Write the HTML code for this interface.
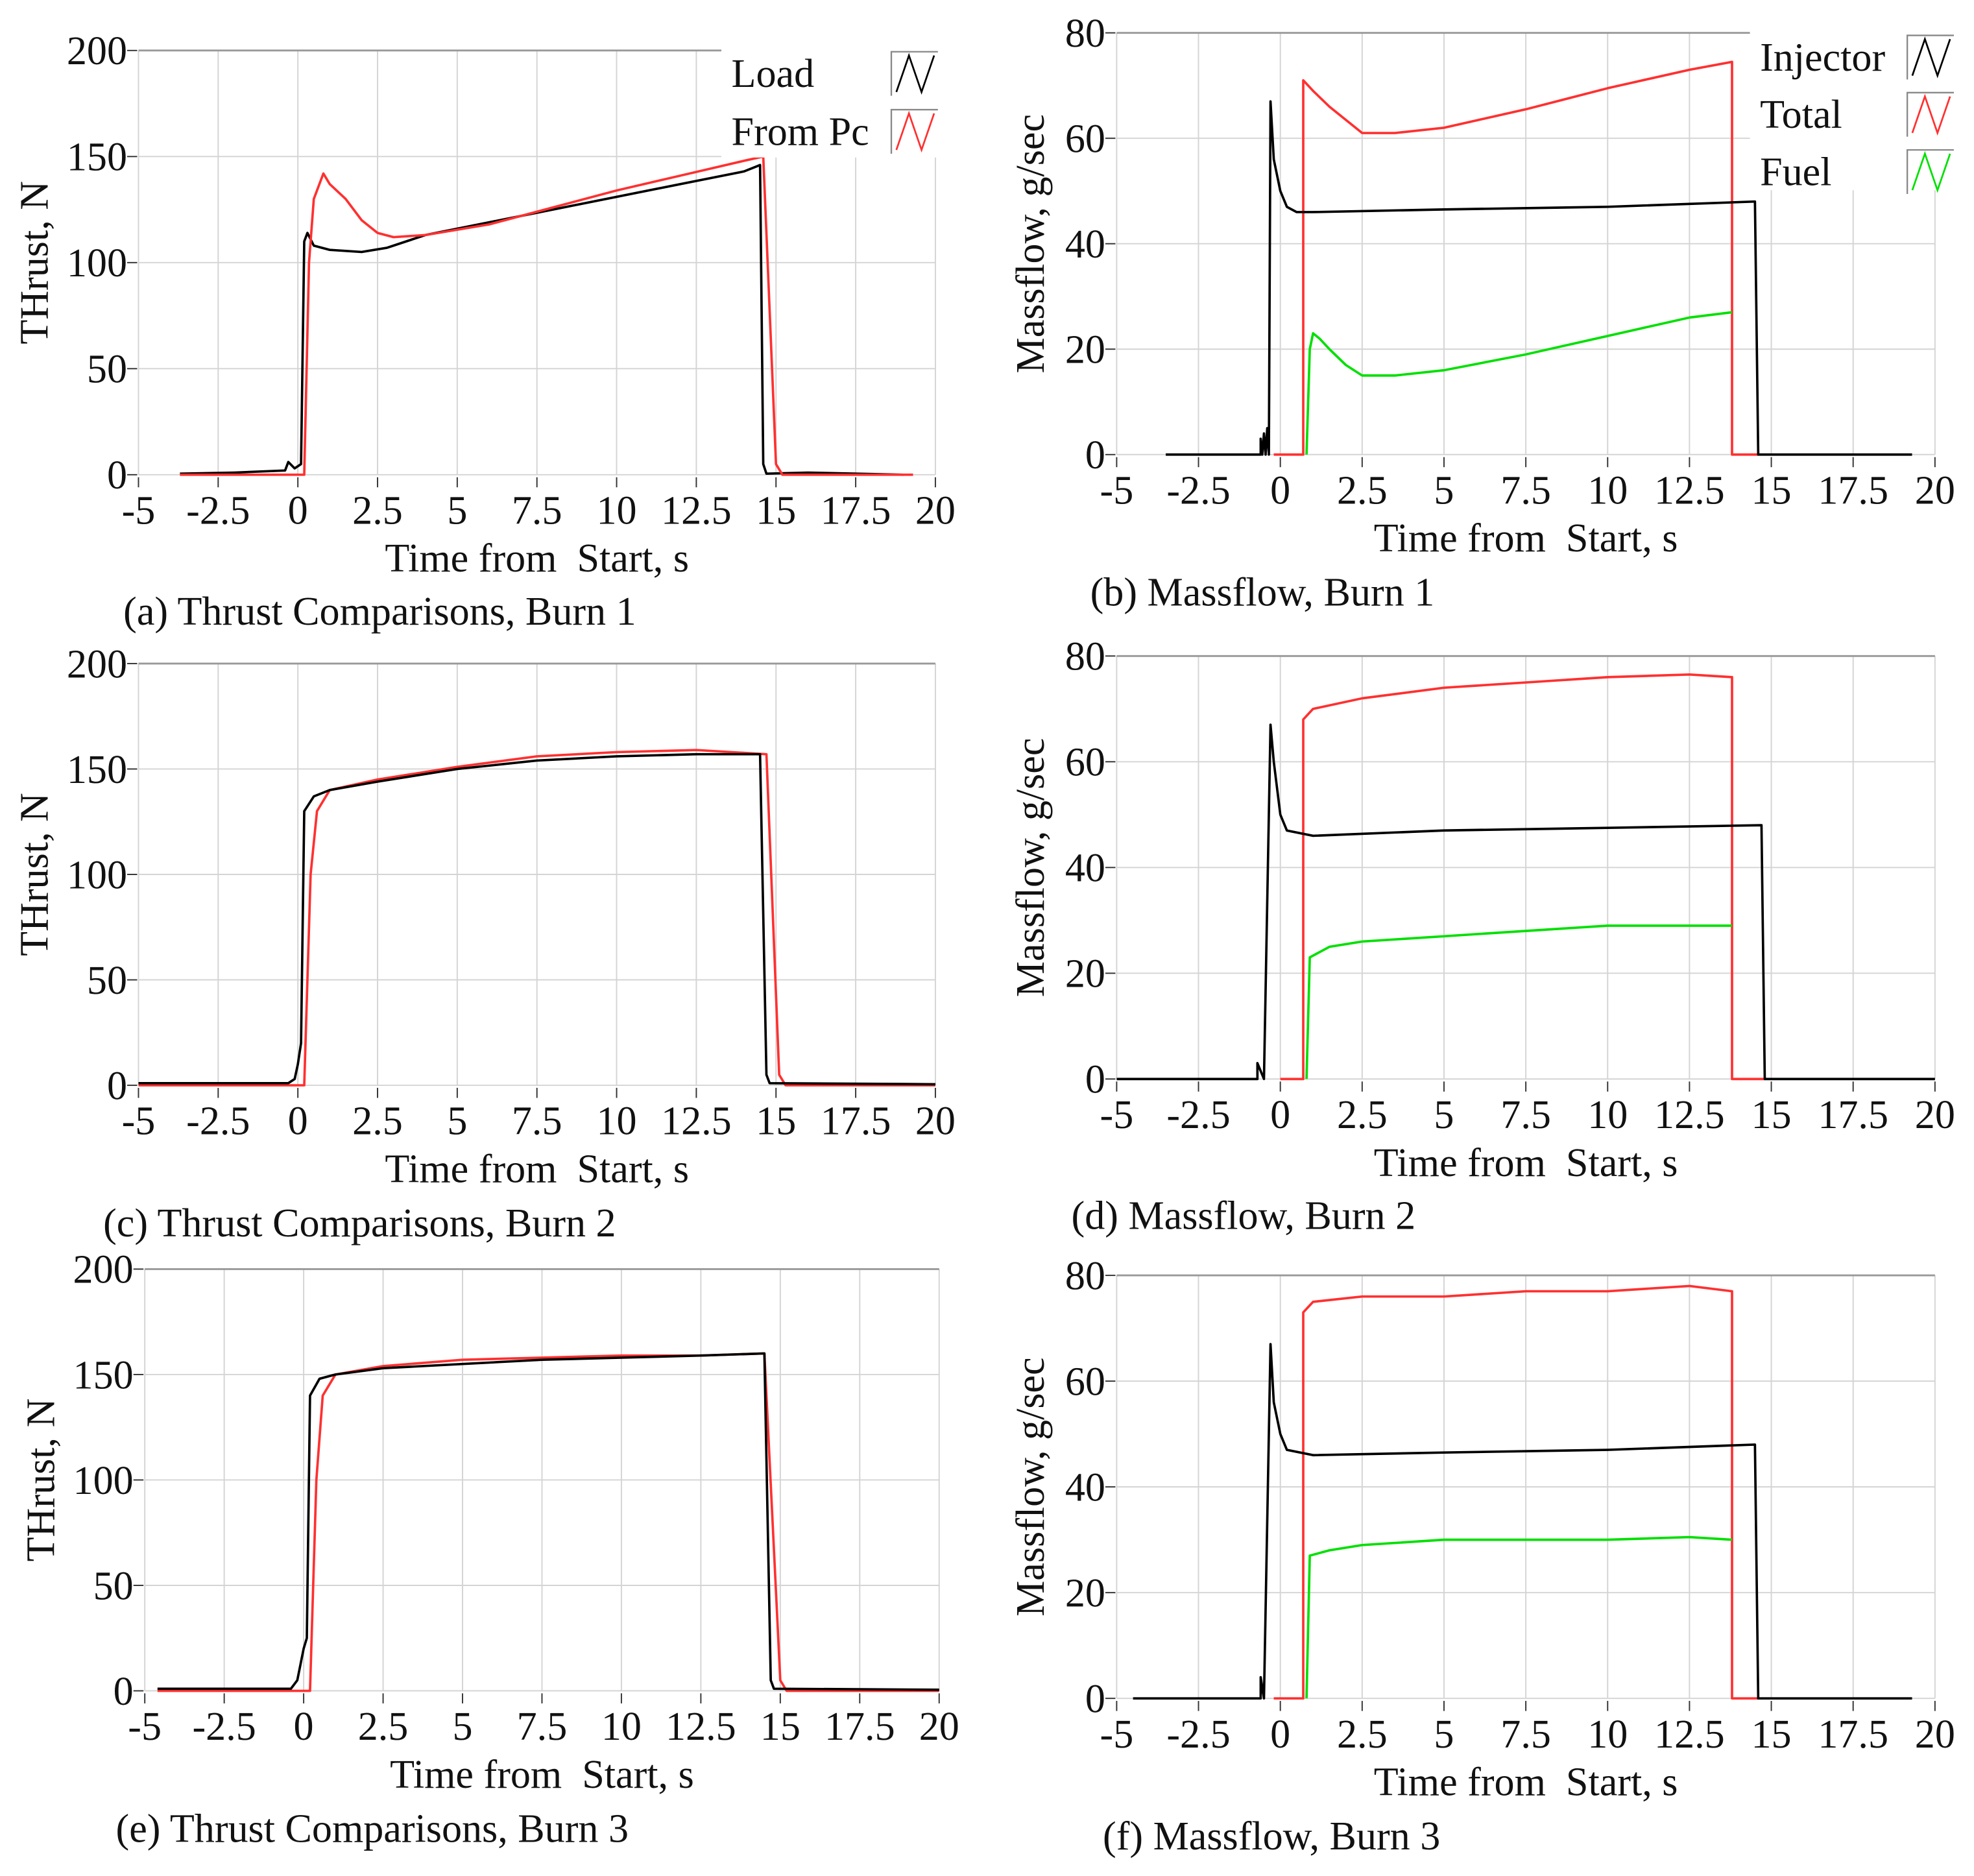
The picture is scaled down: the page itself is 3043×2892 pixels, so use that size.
<!DOCTYPE html>
<html><head><meta charset="utf-8"><style>
html,body{margin:0;padding:0;background:#fff;}
svg{display:block;}
text{font-family:"Liberation Serif",serif;fill:#111;white-space:pre;}
</style></head><body>
<svg id="fig" xmlns="http://www.w3.org/2000/svg" width="3043" height="2892" viewBox="0 0 1568 1490"></svg>
<script>
// ---- data (time s, value) ----
const xTicks = [-5,-2.5,0,2.5,5,7.5,10,12.5,15,17.5,20];
const xTickLabels = ["-5","-2.5","0","2.5","5","7.5","10","12.5","15","17.5","20"];
const thrustTicks = [0,50,100,150,200];
const massTicks = [0,20,40,60,80];

const b1LoadT = [-3.7,-2,-0.4,-0.3,-0.1,0.1,0.2,0.3,0.5,1,2,2.8,4,6,8,10,12,14,14.5,14.6,14.7,16,19];
const b1LoadV = [0.5,1,2,6,3,5,110,114,108,106,105,107,113,119,125,131,137,143,146,5,0.5,1,0];
const b1PcT = [-3.7,0.2,0.35,0.5,0.8,1,1.5,2,2.5,3,4,6,8,10,12,14,14.6,15,15.2,19.3];
const b1PcV = [0,0,100,130,142,137,130,120,114,112,113,118,126,134,141,148,150,5,0,0];

const b1InjT = [-3.5,-0.6,-0.6,-0.55,-0.5,-0.45,-0.4,-0.35,-0.3,-0.2,0,0.2,0.5,1,5,10,14.5,14.6,19.3];
const b1InjV = [0,0,3,0,4,0,5,0,67,56,50,47,46,46,46.5,47,48,0,0];
const b1TotT = [-0.2,0.7,0.7,1,1.5,2.5,3.5,5,7.5,10,12.5,13.8,13.8,14.6];
const b1TotV = [0,0,71,69,66,61,61,62,65.5,69.5,73,74.5,0,0];
const b1FuelT = [0.8,0.9,1,1.2,1.5,2,2.5,3.5,5,7.5,10,12.5,13.8];
const b1FuelV = [0,20,23,22,20,17,15,15,16,19,22.5,26,27];

const b2LoadT = [-5,-0.3,-0.1,0,0.1,0.2,0.5,1,2.5,5,7.5,10,12.5,14.5,14.7,14.8,20];
const b2LoadV = [1,1,3,10,20,130,137,140,144,150,154,156,157,157,5,1,0.5];
const b2PcT = [-5,0.2,0.4,0.6,1,2.5,5,7.5,10,12.5,14.7,15.1,15.3,20];
const b2PcV = [0,0,100,130,140,145,151,156,158,159,157,5,0,0];

const b2InjT = [-5,-0.7,-0.7,-0.5,-0.3,-0.2,0,0.2,1,5,10,14.7,14.8,20];
const b2InjV = [0,0,3,0,67,60,50,47,46,47,47.5,48,0,0];
const b2TotT = [0,0.7,0.7,1,2.5,5,7.5,10,12.5,13.8,13.8,14.8];
const b2TotV = [0,0,68,70,72,74,75,76,76.5,76,0,0];
const b2FuelT = [0.8,0.9,1.5,2.5,5,7.5,10,12.5,13.8];
const b2FuelV = [0,23,25,26,27,28,29,29,29];

const b3LoadT = [-4.6,-0.4,-0.2,0,0.1,0.2,0.5,1,2.5,5,7.5,10,12.5,14.5,14.7,14.8,20];
const b3LoadV = [1,1,5,20,25,140,148,150,153,155,157,158,159,160,5,1,0.5];
const b3PcT = [-4.6,0.2,0.4,0.6,1,2.5,5,7.5,10,12.5,14.5,15,15.2,20];
const b3PcV = [0,0,100,140,150,154,157,158,159,159,160,5,0,0];

const b3InjT = [-4.5,-0.6,-0.6,-0.5,-0.3,-0.2,0,0.2,1,5,10,14.5,14.6,19.3];
const b3InjV = [0,0,4,0,67,56,50,47,46,46.5,47,48,0,0];
const b3TotT = [-0.2,0.7,0.7,1,2.5,5,7.5,10,12.5,13.8,13.8,14.6];
const b3TotV = [0,0,73,75,76,76,77,77,78,77,0,0];
const b3FuelT = [0.8,0.9,1.5,2.5,5,7.5,10,12.5,13.8];
const b3FuelV = [0,27,28,29,30,30,30,30.5,30];

const NS = "http://www.w3.org/2000/svg";
const svg = document.getElementById('fig');
const FS = 32;
function mk(tag, attrs, parent){
  const e = document.createElementNS(NS, tag);
  for (const k in attrs) e.setAttribute(k, attrs[k]);
  (parent||svg).appendChild(e);
  return e;
}

function panel(cfg){
  const g = mk('g', {});
  
  
  const xs = t => cfg.x0 + (t - (-5)) / 25 * (cfg.x1 - cfg.x0);
  const ys = v => cfg.y0 - v / cfg.ymax * (cfg.y0 - cfg.y1);
  xTicks.forEach((t,i) => {
    const l = mk('line', {x1:xs(t), x2:xs(t), y1:cfg.y1, y2:cfg.y0, stroke:'#d4d4d4', 'stroke-width':1}, g);
    
    
    const tk = mk('line', {x1:xs(t), x2:xs(t), y1:cfg.y0+2, y2:cfg.y0+10, stroke:'#333', 'stroke-width':1}, g);
    
    
    const tx = mk('text', {x:xs(t), y:cfg.y0+39, 'text-anchor':'middle', 'font-size':FS}, g);
    tx.textContent = xTickLabels[i];
    
    
  });
  cfg.yticks.forEach(v => {
    if (v !== cfg.ymax) {
      const l = mk('line', {x1:cfg.x0, x2:cfg.x1, y1:ys(v), y2:ys(v), stroke:'#d4d4d4', 'stroke-width':1}, g);
      
      
    }
    const tk = mk('line', {x1:cfg.x0-9, x2:cfg.x0-1, y1:ys(v), y2:ys(v), stroke:'#333', 'stroke-width':1}, g);
    
    
    const tx = mk('text', {x:cfg.x0-9, y:ys(v)+11, 'text-anchor':'end', 'font-size':FS}, g);
    tx.textContent = String(v);
    
    
  });
  const top = mk('line', {x1:cfg.x0, x2:cfg.x1, y1:cfg.y1, y2:cfg.y1, stroke:'#999', 'stroke-width':1.5}, g);
  
  
  cfg.series.forEach(s => {
    const d = s.t.map((t,i) => (i?'L':'M') + xs(t).toFixed(2) + ',' + ys(s.v[i]).toFixed(2)).join('');
    const p = mk('path', {d:d, fill:'none', stroke:s.color, 'stroke-width':1.9, 'stroke-linejoin':'round'}, g);
    
    
  });
  if (cfg.legend){
    const L = cfg.legend;
    const bg = mk('rect', {x:L.x-8, y:cfg.y1-1, width:cfg.x1+10-(L.x-8), height:L.h, fill:'#fff'}, g);
    
    
    L.items.forEach((it,i) => {
      const cy = L.y + i*L.dy;
      const tx = mk('text', {x:L.x, y:cy+11, 'font-size':FS}, g);
      tx.textContent = it.label;
      
      
      const bx = L.bx;
      const frame = mk('path', {d:`M${bx},${cy+18}L${bx},${cy-17}L${bx+37},${cy-17}`, fill:'none', stroke:'#888', 'stroke-width':1.2}, g);
      
      
      const sw = mk('path', {d:`M${bx+4},${cy+15}L${bx+14},${cy-14}L${bx+24},${cy+15}L${bx+34},${cy-14}`, fill:'none', stroke:it.color, 'stroke-width':1.4}, g);
      
      
    });
  }
  const xt = mk('text', {x:(cfg.x0+cfg.x1)/2, y:cfg.y0+77, 'text-anchor':'middle', 'font-size':FS}, g);
  xt.textContent = 'Time from\u00a0\u00a0Start, s';
  
  
  const ycx = cfg.x0 - cfg.yoff, ycy = (cfg.y0+cfg.y1)/2;
  const yt = mk('text', {x:ycx, y:ycy, 'text-anchor':'middle', 'font-size':FS, transform:`rotate(-90 ${ycx} ${ycy})`}, g);
  yt.textContent = cfg.ytitle;
  
  
  const cap = mk('text', {x:cfg.capX, y:cfg.capY, 'font-size':FS}, g);
  cap.textContent = cfg.caption;
  
  
}

const K='#000', R='#ff3030', G='#00e000';
const thrustLegend = {x:581, bx:708, y:58, dy:46, h:86, items:[{label:'Load',color:K},{label:'From Pc',color:R}]};
const massLegend = {x:1398, bx:1515, y:45, dy:45.5, h:126, items:[{label:'Injector',color:K},{label:'Total',color:R},{label:'Fuel',color:G}]};

panel({name:'thrust-burn1-chart', x0:110, x1:743, y0:377, y1:40, ymax:200, yticks:thrustTicks, ytitle:'THrust, N', yoff:72,
  caption:'(a) Thrust Comparisons, Burn 1', capX:98, capY:496, legend:thrustLegend,
  series:[{name:'load-burn1-line',t:b1LoadT,v:b1LoadV,color:K},{name:'from-pc-burn1-line',t:b1PcT,v:b1PcV,color:R}]});
panel({name:'massflow-burn1-chart', x0:887, x1:1537, y0:361, y1:26, ymax:80, yticks:massTicks, ytitle:'Massflow, g/sec', yoff:58,
  caption:'(b) Massflow, Burn 1', capX:866, capY:481, legend:massLegend,
  series:[{name:'total-burn1-line',t:b1TotT,v:b1TotV,color:R},{name:'fuel-burn1-line',t:b1FuelT,v:b1FuelV,color:G},{name:'injector-burn1-line',t:b1InjT,v:b1InjV,color:K}]});
panel({name:'thrust-burn2-chart', x0:110, x1:743, y0:862, y1:527, ymax:200, yticks:thrustTicks, ytitle:'THrust, N', yoff:72,
  caption:'(c) Thrust Comparisons, Burn 2', capX:82, capY:982,
  series:[{name:'from-pc-burn2-line',t:b2PcT,v:b2PcV,color:R},{name:'load-burn2-line',t:b2LoadT,v:b2LoadV,color:K}]});
panel({name:'massflow-burn2-chart', x0:887, x1:1537, y0:857, y1:521, ymax:80, yticks:massTicks, ytitle:'Massflow, g/sec', yoff:58,
  caption:'(d) Massflow, Burn 2', capX:851, capY:976,
  series:[{name:'total-burn2-line',t:b2TotT,v:b2TotV,color:R},{name:'fuel-burn2-line',t:b2FuelT,v:b2FuelV,color:G},{name:'injector-burn2-line',t:b2InjT,v:b2InjV,color:K}]});
panel({name:'thrust-burn3-chart', x0:115, x1:746, y0:1343, y1:1008, ymax:200, yticks:thrustTicks, ytitle:'THrust, N', yoff:72,
  caption:'(e) Thrust Comparisons, Burn 3', capX:92, capY:1463,
  series:[{name:'from-pc-burn3-line',t:b3PcT,v:b3PcV,color:R},{name:'load-burn3-line',t:b3LoadT,v:b3LoadV,color:K}]});
panel({name:'massflow-burn3-chart', x0:887, x1:1537, y0:1349, y1:1013, ymax:80, yticks:massTicks, ytitle:'Massflow, g/sec', yoff:58,
  caption:'(f) Massflow, Burn 3', capX:876, capY:1469,
  series:[{name:'total-burn3-line',t:b3TotT,v:b3TotV,color:R},{name:'fuel-burn3-line',t:b3FuelT,v:b3FuelV,color:G},{name:'injector-burn3-line',t:b3InjT,v:b3InjV,color:K}]});
</script>
</body></html>
